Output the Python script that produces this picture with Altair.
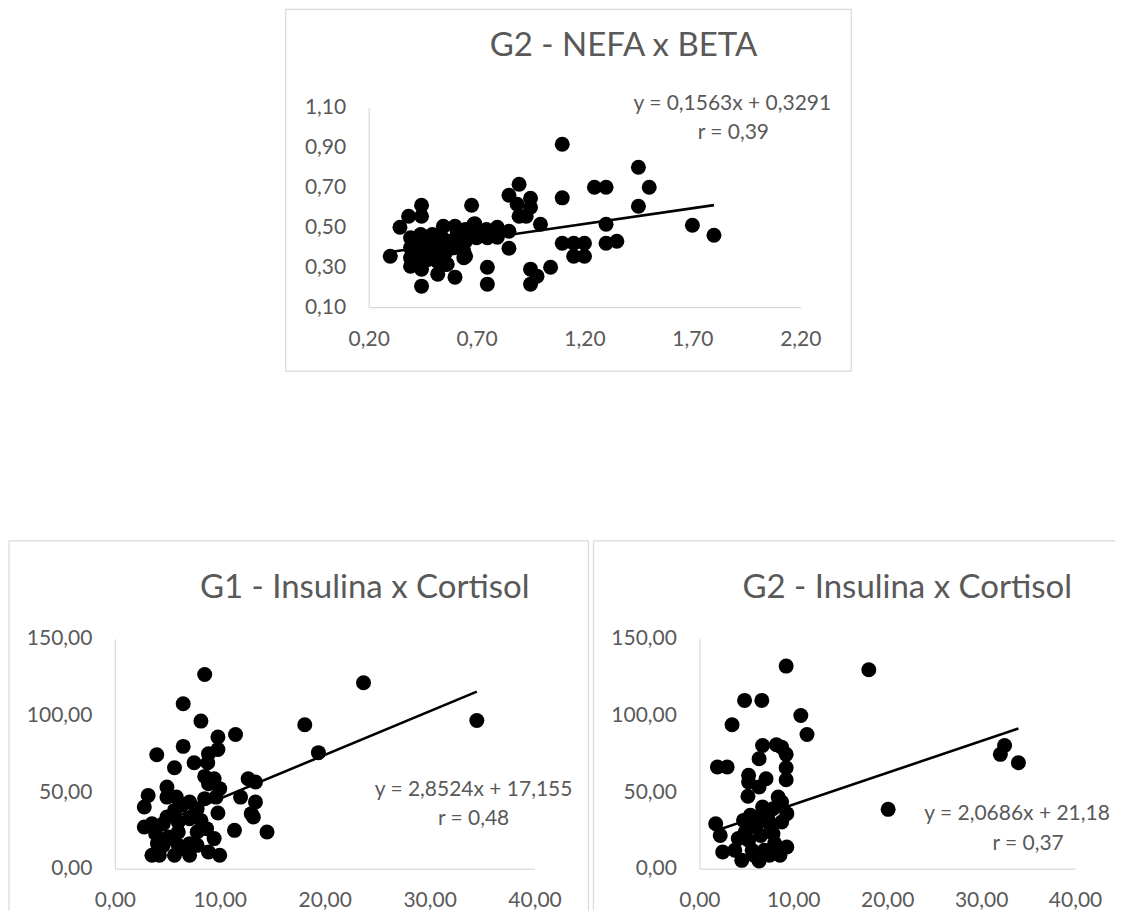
import altair as alt
import pandas as pd

# ---------------- data ----------------
# Panel 1: G2 - NEFA x BETA
nefa_x = [0.30, 0.345, 0.385, 0.445, 0.445, 0.445, 0.445, 0.52, 0.60, 0.564, 0.677, 0.687, 0.649,
          0.75, 0.75, 0.85, 0.85, 0.897, 0.888, 0.897, 0.95, 0.95, 0.93, 0.996, 0.95, 0.95, 0.98,
          1.043, 1.097, 1.097, 1.097, 1.15, 1.15, 1.20, 1.20, 1.246, 1.30, 1.30, 1.30, 1.35, 1.45,
          1.45, 1.50, 1.70, 1.80,
          0.546, 0.60, 0.649, 0.692, 0.746, 0.796, 0.796, 0.85, 0.75, 0.70,
          0.394, 0.394, 0.394, 0.394, 0.418, 0.418, 0.441, 0.441, 0.441, 0.441, 0.472, 0.472, 0.472,
          0.495, 0.495, 0.495, 0.518, 0.533, 0.541, 0.556, 0.556, 0.58, 0.595, 0.61, 0.626, 0.641,
          0.641, 0.665, 0.649, 0.695]
beta_y = [0.355, 0.50, 0.555, 0.61, 0.555, 0.205, 0.29, 0.265, 0.25, 0.315, 0.61, 0.515, 0.355,
          0.30, 0.215, 0.66, 0.395, 0.715, 0.615, 0.555, 0.645, 0.60, 0.555, 0.515, 0.29, 0.215, 0.255,
          0.30, 0.915, 0.647, 0.42, 0.42, 0.355, 0.42, 0.355, 0.70, 0.70, 0.515, 0.42, 0.43, 0.80,
          0.605, 0.70, 0.51, 0.46,
          0.505, 0.505, 0.488, 0.517, 0.488, 0.50, 0.45, 0.48, 0.447, 0.447,
          0.447, 0.397, 0.347, 0.305, 0.422, 0.372, 0.463, 0.413, 0.363, 0.313, 0.438, 0.388, 0.338,
          0.463, 0.413, 0.363, 0.33, 0.397, 0.447, 0.372, 0.313, 0.43, 0.397, 0.463, 0.413, 0.38,
          0.347, 0.463, 0.43, 0.472]

# Panel 2: G1 - Insulina x Cortisol
g1_insulina = [8.56, 6.51, 8.2, 9.82, 11.5, 9.82, 8.92, 6.51, 3.99, 7.55, 8.85, 5.68, 8.56, 9.46,
               12.7, 13.4, 8.92, 9.99, 4.96, 3.17, 5.86, 4.96, 11.98, 13.4, 8.56, 9.64, 7.12, 2.8,
               5.68, 7.84, 9.82, 13.0, 13.2, 2.8, 3.53, 4.6, 6.04, 7.12, 8.2, 3.88, 5.14, 6.04, 7.84,
               8.74, 11.4, 14.5, 9.46, 4.6, 6.04, 7.12, 7.84, 3.53, 4.24, 5.68, 7.12, 8.92, 9.99,
               18.1, 19.4, 23.7, 34.5, 6.4, 7.5, 4.96, 6.76, 4.06, 5.5]
g1_cortisol = [126.7, 107.6, 96.3, 85.9, 87.6, 77.8, 75.0, 79.8, 74.3, 69.1, 69.1, 65.9, 60.2, 58.7,
               58.7, 56.5, 55.4, 52.2, 53.3, 47.8, 46.7, 46.7, 46.7, 43.5, 45.7, 46.7, 43.5, 40.2,
               38.0, 39.1, 36.3, 35.9, 33.7, 27.2, 29.3, 29.3, 30.4, 32.6, 31.5, 22.8, 20.7, 23.9, 23.9,
               26.1, 25.0, 23.9, 19.6, 15.2, 15.2, 16.3, 15.2, 8.7, 8.7, 8.7, 8.7, 10.9, 8.7,
               93.9, 75.7, 121.3, 96.7, 41.3, 34.8, 33.7, 13.0, 16.3, 19.6]

# Panel 3: G2 - Insulina x Cortisol
g2_insulina = [9.24, 18.04, 4.81, 6.65, 10.8, 3.48, 11.46, 6.73, 8.2, 8.76, 9.24, 6.36, 1.92, 2.96,
               9.24, 5.24, 9.24, 5.24, 7.1, 6.36, 5.17, 8.39, 8.76, 32.05, 32.5, 33.97, 20.1, 1.74,
               2.22, 2.48, 5.43, 6.73, 7.84, 9.31, 8.76, 7.47, 6.0, 4.88, 4.14, 5.25, 6.54, 7.84,
               8.02, 9.31, 8.58, 4.51, 6.36, 3.77, 5.62, 6.91, 4.7, 6.36, 7.28, 5.8, 7.47]
g2_cortisol = [132.2, 129.8, 109.8, 109.8, 100.0, 93.9, 87.6, 80.4, 80.9, 79.3, 74.6, 71.7, 66.3, 66.3,
               65.9, 60.9, 58.0, 56.5, 58.7, 53.3, 47.2, 46.7, 43.5, 74.6, 80.4, 69.1, 38.7, 29.3,
               21.7, 10.9, 34.8, 40.2, 39.1, 35.9, 30.4, 29.3, 27.2, 23.9, 19.6, 18.5, 21.7, 22.8,
               16.3, 14.1, 8.7, 5.4, 5.0, 12.0, 12.0, 12.0, 31.5, 33.7, 32.6, 8.7, 8.7]

titles = ["G2 - NEFA x BETA", "G1 - Insulina x Cortisol", "G2 - Insulina x Cortisol"]
slopes = [0.1563, 2.8524, 2.0686]
intercepts = [0.3291, 17.155, 21.18]
eq_labels = ["y = 0,1563x + 0,3291", "y = 2,8524x + 17,155", "y = 2,0686x + 21,18"]
r_labels = ["r = 0,39", "r = 0,48", "r =  0,37"]
x_ticks_top = [0.2, 0.7, 1.2, 1.7, 2.2]
y_ticks_top = [0.1, 0.3, 0.5, 0.7, 0.9, 1.1]
x_ticks_bottom = [0, 10, 20, 30, 40]
y_ticks_bottom = [0, 50, 100, 150]

# ---------------- style ----------------
FONT = "Lato"
TXT = "#595959"
LINEGRAY = "#D9D9D9"
LABEL_EXPR = "replace(format(datum.value, '.2f'), '.', ',')"
TITLE_SIZE = 33
EQ_SIZE = 21


def one_row():
    return pd.DataFrame({"k": [0]})


def text_layer(txt, px, py, size):
    return alt.Chart(pd.DataFrame({"t": [txt]})).mark_text(
        font=FONT, fontSize=size, color=TXT, align="center", baseline="middle"
    ).encode(x=alt.value(px), y=alt.value(py), text="t:N")


def frame_rect(x0, x1, y0, y1):
    return alt.Chart(one_row()).mark_rect(
        fillOpacity=0, stroke=LINEGRAY, strokeWidth=1.2
    ).encode(x=alt.value(x0), x2=alt.value(x1), y=alt.value(y0), y2=alt.value(y1))


def vrule(x, y0, y1):
    return alt.Chart(one_row()).mark_rule(color=LINEGRAY, strokeWidth=1.2).encode(
        x=alt.value(x), y=alt.value(y0), y2=alt.value(y1))


def hrule(y, x0, x1):
    return alt.Chart(one_row()).mark_rule(color=LINEGRAY, strokeWidth=1.2).encode(
        y=alt.value(y), x=alt.value(x0), x2=alt.value(x1))


def spacer(w, h):
    return alt.Chart(one_row()).mark_point(opacity=0).encode(
        x=alt.value(0), y=alt.value(0)).properties(width=w, height=h)


def panel(xs, ys, i, xdom, ydom, xticks, yticks, plot_w, view_w, h,
          title_pos, eq_pos, r_pos, frame_layers):
    df = pd.DataFrame({"x": xs, "y": ys})
    lo, hi = min(xs), max(xs)
    line_df = pd.DataFrame({"x": [lo, hi],
                            "y": [slopes[i] * lo + intercepts[i], slopes[i] * hi + intercepts[i]]})
    xscale = alt.Scale(domain=xdom, range=[0, plot_w], nice=False, zero=False)
    yscale = alt.Scale(domain=ydom, nice=False, zero=False)
    common = dict(grid=False, ticks=False, domainColor=LINEGRAY, domainWidth=1.2,
                  labelColor=TXT, labelFont=FONT, labelFontSize=21,
                  labelOverlap=False, labelBound=False, labelFlush=False, title=None,
                  labelExpr=LABEL_EXPR)
    xaxis = alt.Axis(values=xticks, labelPadding=21, **common)
    yaxis = alt.Axis(values=yticks, labelPadding=23, **common)
    xenc = alt.X("x:Q", scale=xscale, axis=xaxis)
    yenc = alt.Y("y:Q", scale=yscale, axis=yaxis)
    pts = alt.Chart(df).mark_circle(size=225, color="black", opacity=1).encode(x=xenc, y=yenc)
    trend = alt.Chart(line_df).mark_line(color="black", strokeWidth=2.6).encode(x=xenc, y=yenc)
    layers = list(frame_layers) + [
        pts, trend,
        text_layer(eq_labels[i], eq_pos[0], eq_pos[1], EQ_SIZE),
        text_layer(r_labels[i], r_pos[0], r_pos[1], EQ_SIZE),
        text_layer(titles[i], title_pos[0], title_pos[1], TITLE_SIZE),
    ]
    return alt.layer(*layers).properties(width=view_w, height=h)


# Grid: 3 columns with zero spacing. Column widths 254 / 331 / 376 put the
# plot areas at x = 0 (bottom-left), 254 (top) and 585 (bottom-right).
p_top = panel(nefa_x, beta_y, 0, [0.2, 2.2], [0.1, 1.1], x_ticks_top, y_ticks_top, 432, 331, 200,
              (255, -61), (364, -3), (365, 26),
              [frame_rect(-83, 483, -98, 264)])
p_bl = panel(g1_insulina, g1_cortisol, 1, [0, 40], [0, 150], x_ticks_bottom, y_ticks_bottom,
             420, 254, 230,
             (250, -51), (359, 151), (359, 180),
             [vrule(-106, -98, 272), hrule(-98, -106, 474), vrule(474, -98, 272)])
p_br = panel(g2_insulina, g2_cortisol, 2, [0, 40], [0, 150], x_ticks_bottom, y_ticks_bottom,
             376, 376, 230,
             (208, -51), (318, 175), (329, 205),
             [vrule(-106, -98, 272), hrule(-98, -106, 416)])

chart = alt.concat(
    spacer(254, 200), p_top, spacer(376, 200),
    p_bl, spacer(331, 230), p_br,
    columns=3,
    spacing=alt.RowColnumber(row=332, column=0),
    bounds="flush",
    padding=0,
).configure_view(stroke=None)

chart.save("out.html", embed_options={"renderer": "svg", "actions": False})
